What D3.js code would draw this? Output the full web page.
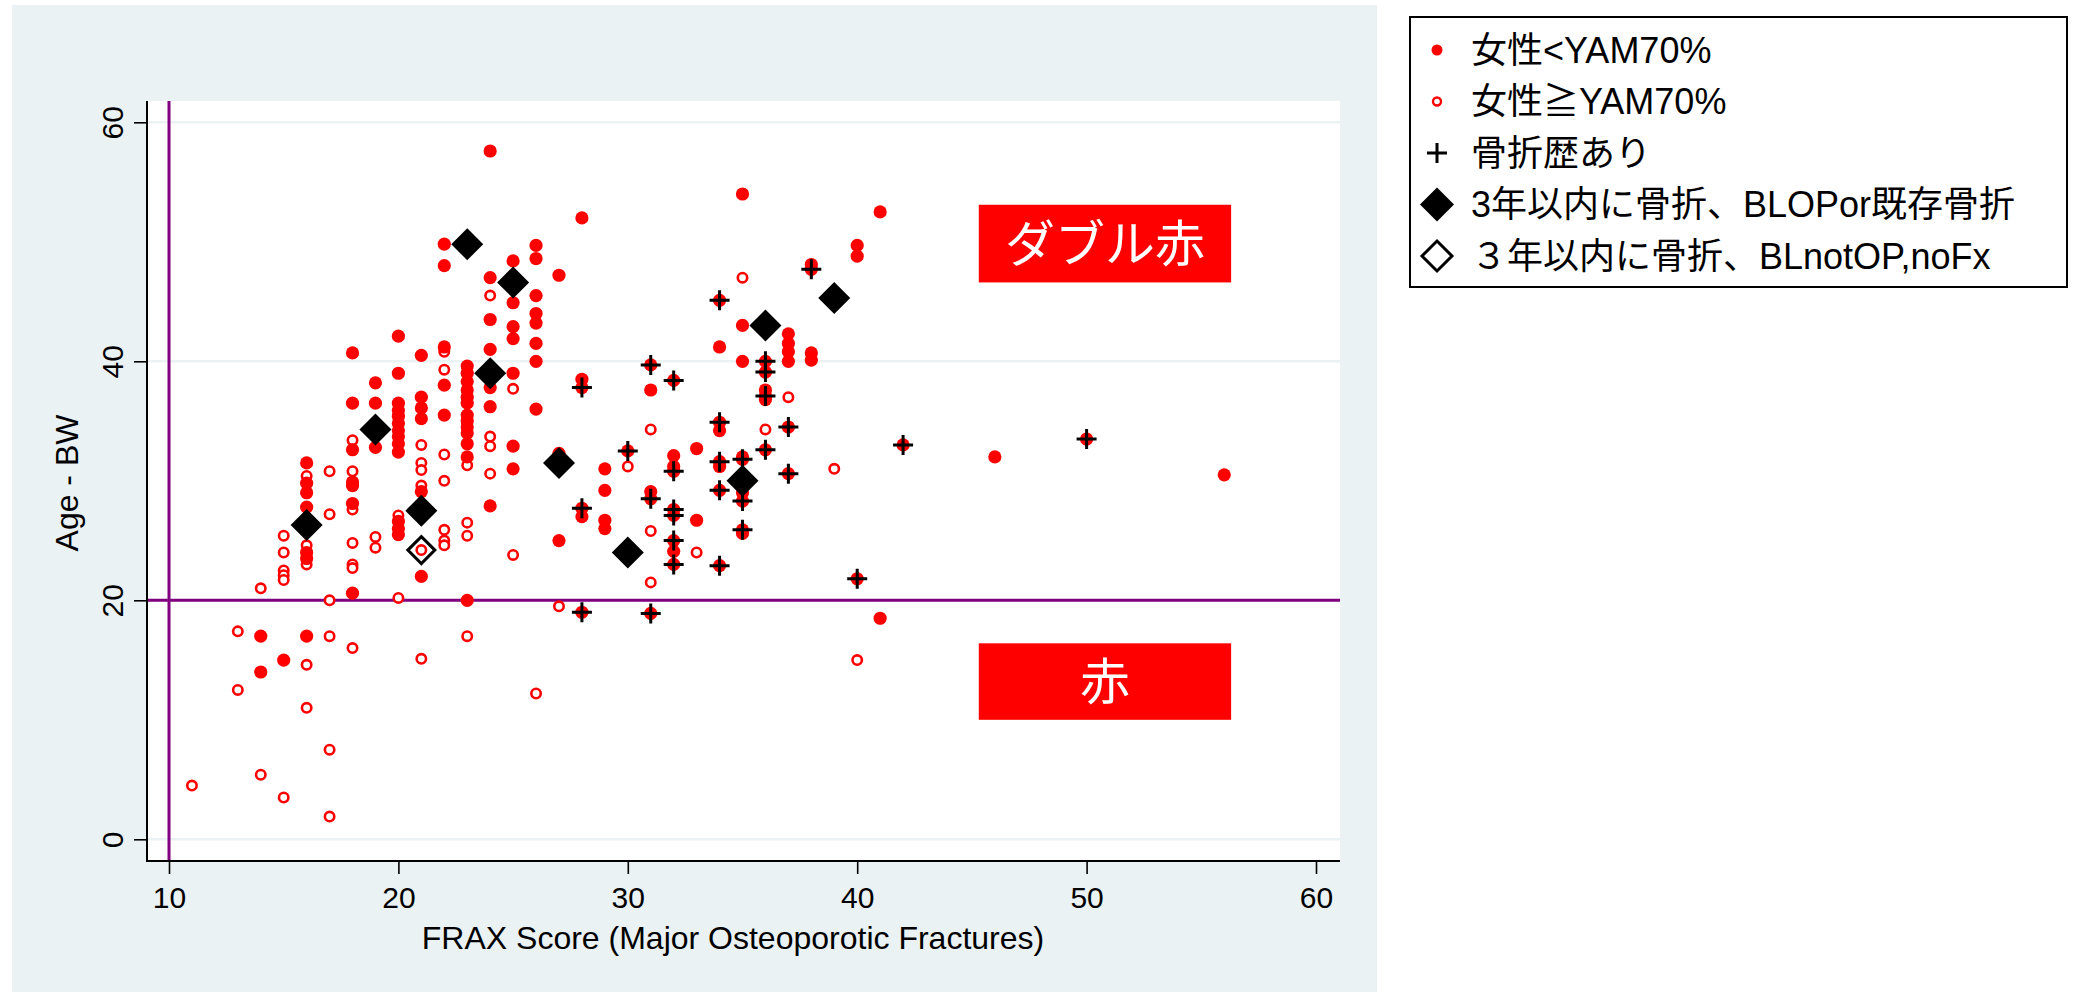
<!DOCTYPE html>
<html>
<head>
<meta charset="utf-8">
<script src="https://cdn.jsdelivr.net/npm/d3@7"></script>
<style>
  body { margin: 0; background: #fff; }
  svg { display: block; }
  text { font-family: "Liberation Sans", Arial, "Noto Sans CJK JP", sans-serif; }
</style>
</head>
<body>
<script>
// data: [FRAX, Age - BW]
var lowPts = [ // 女性<YAM70% (filled)
  [14,17.0],[14,14.0],[15,15.0],
  [16,31.5],[16,29.8],[16,29.0],[16,27.8],[16,24.0],[16,23.5],[16,17.0],
  [18,40.7],[18,36.5],[18,32.6],[18,29.9],[18,29.6],[18,28.1],[18,20.6],
  [19,38.2],[19,36.5],[19,32.8],
  [20,42.1],[20,39.0],[20,36.5],[20,35.9],[20,35.4],[20,34.8],[20,34.2],[20,33.7],[20,33.1],[20,32.4],[20,26.6],[20,26.0],[20,25.5],
  [21,40.5],[21,37.0],[21,36.1],[21,35.2],[21,29.1],[21,22.0],
  [22,49.8],[22,48.0],[22,41.2],[22,38.0],[22,35.5],
  [23,39.6],[23,39.0],[23,38.3],[23,37.6],[23,37.0],[23,36.5],[23,35.5],[23,35.0],[23,34.5],[23,34.0],[23,33.1],[23,32.0],[23,20.0],
  [24,57.6],[24,47.0],[24,43.5],[24,41.0],[24,37.8],[24,36.2],[24,27.9],
  [25,48.4],[25,44.9],[25,42.9],[25,41.9],[25,39.0],[25,32.9],[25,31.0],
  [26,49.7],[26,48.6],[26,45.5],[26,44.0],[26,43.2],[26,41.5],[26,40.0],[26,36.0],
  [27,47.2],[27,32.3],[27,25.0],
  [28,52.0],[28,38.5],[28,37.8],[28,27.7],[28,27.0],[28,19.0],
  [29,31.0],[29,29.2],[29,26.7],[29,26.0],
  [30,32.5],
  [31,39.7],[31,37.6],[31,29.1],[31,28.5],[31,18.9],
  [32,38.4],[32,32.1],[32,31.2],[32,30.8],[32,27.6],[32,27.1],[32,25.0],[32,24.1],[32,23.0],
  [33,32.7],[33,26.7],
  [34,45.1],[34,41.2],[34,34.9],[34,34.2],[34,31.6],[34,31.2],[34,29.2],[34,22.9],
  [35,54.0],[35,43.0],[35,40.0],[35,32.0],[35,31.8],[35,29.0],[35,28.3],[35,25.9],[35,25.6],
  [36,40.0],[36,39.1],[36,37.6],[36,37.1],[36,36.8],[36,32.6],
  [37,42.3],[37,41.5],[37,40.8],[37,40.0],[37,34.5],[37,30.6],
  [38,48.1],[38,47.7],[38,40.7],[38,40.1],
  [40,49.7],[40,48.8],[40,21.8],
  [41,52.5],[41,18.5],
  [42,33.0],[46,32.0],[50,33.5],[56,30.5]
];
var highPts = [ // 女性≧YAM70% (hollow)
  [11,4.5],[13,17.4],[13,12.5],[14,21.0],[14,5.4],
  [15,25.4],[15,24.0],[15,22.5],[15,22.1],[15,21.7],[15,3.5],
  [16,30.4],[16,24.6],[16,23.0],[16,14.6],[16,11.0],
  [17,30.8],[17,27.2],[17,20.0],[17,17.0],[17,7.5],[17,1.9],
  [18,33.4],[18,30.8],[18,27.6],[18,24.8],[18,23.0],[18,22.7],[18,16.0],
  [19,25.3],[19,24.4],[20,27.1],[20,20.2],
  [21,33.0],[21,31.5],[21,30.9],[21,29.6],[21,24.2],[21,15.1],
  [22,40.8],[22,39.3],[22,32.2],[22,30.0],[22,25.9],[22,25.0],[22,24.6],
  [23,31.3],[23,26.5],[23,25.4],[23,17.0],
  [24,45.5],[24,33.7],[24,32.9],[24,30.6],
  [25,37.7],[25,23.8],[26,12.2],[27,19.5],[30,31.2],
  [31,34.3],[31,25.8],[31,21.5],[33,24.0],[35,47.0],[36,34.3],[37,37.0],[39,31.0],[40,15.0]
];
var fxPts = [ // 骨折歴あり (+)
  [28,37.8],[28,27.7],[28,19.0],[30,32.5],[31,39.7],[31,28.5],[31,18.9],
  [32,38.4],[32,30.8],[32,27.6],[32,27.1],[32,25.0],[32,23.0],
  [34,45.1],[34,34.9],[34,31.6],[34,29.2],[34,22.9],
  [35,31.8],[35,28.3],[35,25.9],[36,40.0],[36,39.1],[36,37.1],[36,32.6],
  [37,34.5],[37,30.6],[38,47.7],[40,21.8],[42,33.0],[50,33.5]
];
var opFxPts = [ // 3年以内に骨折、BLOPor既存骨折 (filled diamond)
  [16,26.3],[19,34.3],[21,27.5],[23,49.8],[24,39.0],[25,46.6],
  [27,31.5],[30,24.0],[35,30.0],[36,43.0],[39,45.3]
];
var noOpFxPts = [ // ３年以内に骨折、BLnotOP,noFx (hollow diamond)
  [21,24.2]
];

var xTicks = [10, 20, 30, 40, 50, 60];
var yTicks = [0, 20, 40, 60];
var refX = 10, refY = 20;
var legendLabels = ['女性<YAM70%', '女性≧YAM70%', '骨折歴あり', '3年以内に骨折、BLOPor既存骨折', '３年以内に骨折、BLnotOP,noFx'];
var boxLabels = ['ダブル赤', '赤'];
// box extents in data units [x0, x1, y0, y1]
var boxExtents = [[45.3, 56.3, 46.6, 53.1], [45.3, 56.3, 10.0, 16.4]];

var W = 2078, H = 992;
var red = '#ff0000', purple = '#800080', grid = '#eaf2f3';
var plot = {left: 147, right: 1340, top: 101, bottom: 861};

var svg = d3.select('body').append('svg')
  .attr('width', W)
  .attr('height', H);

// graph region background
svg.append('rect')
  .attr('x', 12).attr('y', 5)
  .attr('width', 1365).attr('height', H - 5)
  .attr('fill', grid);

svg.append('rect')
  .attr('x', plot.left).attr('y', plot.top)
  .attr('width', plot.right - plot.left).attr('height', plot.bottom - plot.top)
  .attr('fill', '#fff');

var x = d3.scaleLinear().domain([10, 60]).range([169, 1316]);
var y = d3.scaleLinear().domain([0, 60]).range([839.3, 122.3]);

// gridlines
svg.append('g').selectAll('line')
  .data(yTicks)
  .join('line')
    .attr('x1', plot.left).attr('x2', plot.right)
    .attr('y1', d => y(d)).attr('y2', d => y(d))
    .attr('stroke', grid).attr('stroke-width', 2.5);

// reference lines
svg.append('line')
  .attr('x1', x(refX)).attr('x2', x(refX))
  .attr('y1', plot.top).attr('y2', plot.bottom)
  .attr('stroke', purple).attr('stroke-width', 3);
svg.append('line')
  .attr('x1', plot.left).attr('x2', plot.right)
  .attr('y1', y(refY)).attr('y2', y(refY))
  .attr('stroke', purple).attr('stroke-width', 3);

// axes
var xAxis = svg.append('g')
  .attr('transform', 'translate(0,' + plot.bottom + ')')
  .call(d3.axisBottom(x).tickValues(xTicks).tickSize(13).tickPadding(13));
xAxis.select('.domain').remove();
xAxis.selectAll('.tick line').attr('stroke', '#000').attr('stroke-width', 1.6);
xAxis.selectAll('.tick text')
  .attr('fill', '#000')
  .style('font-size', '30px');

var yAxis = svg.append('g')
  .attr('transform', 'translate(' + plot.left + ',0)')
  .call(d3.axisLeft(y).tickValues(yTicks).tickSize(13));
yAxis.select('.domain').remove();
yAxis.selectAll('.tick line').attr('stroke', '#000').attr('stroke-width', 1.6);
yAxis.selectAll('.tick text')
  .attr('fill', '#000')
  .attr('transform', 'rotate(-90)')
  .attr('x', 0).attr('y', -24).attr('dy', null)
  .attr('text-anchor', 'middle')
  .style('font-size', '30px');

svg.append('line')
  .attr('x1', plot.left).attr('x2', plot.left)
  .attr('y1', plot.top).attr('y2', plot.bottom + 1)
  .attr('stroke', '#000').attr('stroke-width', 2);
svg.append('line')
  .attr('x1', plot.left - 1).attr('x2', plot.right)
  .attr('y1', plot.bottom).attr('y2', plot.bottom)
  .attr('stroke', '#000').attr('stroke-width', 2);

// axis titles
svg.append('text')
  .attr('x', 733).attr('y', 949)
  .attr('text-anchor', 'middle')
  .style('font-size', '32px')
  .text('FRAX Score (Major Osteoporotic Fractures)');
svg.append('text')
  .attr('transform', 'translate(78,483) rotate(-90)')
  .attr('text-anchor', 'middle')
  .style('font-size', '32px')
  .text('Age - BW');

// annotation boxes
var boxes = svg.append('g').selectAll('g')
  .data(boxLabels)
  .join('g');
boxes.append('rect')
  .attr('x', (d, i) => x(boxExtents[i][0]))
  .attr('y', (d, i) => y(boxExtents[i][3]))
  .attr('width', (d, i) => x(boxExtents[i][1]) - x(boxExtents[i][0]))
  .attr('height', (d, i) => y(boxExtents[i][2]) - y(boxExtents[i][3]))
  .attr('fill', red);
boxes.append('text')
  .attr('x', (d, i) => (x(boxExtents[i][0]) + x(boxExtents[i][1])) / 2)
  .attr('y', (d, i) => (y(boxExtents[i][2]) + y(boxExtents[i][3])) / 2)
  .attr('dy', '0.36em')
  .attr('text-anchor', 'middle')
  .attr('fill', '#fff')
  .style('font-family', '"Noto Sans CJK JP", sans-serif')
  .style('font-size', '50px')
  .text(d => d);

// markers
var diamond = s => 'M0,' + (-s) + 'L' + s + ',0L0,' + s + 'L' + (-s) + ',0Z';
var plus = s => 'M' + (-s) + ',0H' + s + 'M0,' + (-s) + 'V' + s;

svg.append('g').selectAll('circle')
  .data(highPts)
  .join('circle')
    .attr('cx', d => x(d[0])).attr('cy', d => y(d[1]))
    .attr('r', 4.7)
    .attr('fill', '#fff').attr('stroke', red).attr('stroke-width', 2.6);

svg.append('g').selectAll('circle')
  .data(lowPts)
  .join('circle')
    .attr('cx', d => x(d[0])).attr('cy', d => y(d[1]))
    .attr('r', 6.6)
    .attr('fill', red);

svg.append('g').selectAll('path')
  .data(fxPts)
  .join('path')
    .attr('transform', d => 'translate(' + x(d[0]) + ',' + y(d[1]) + ')')
    .attr('d', plus(10))
    .attr('stroke', '#000').attr('stroke-width', 3).attr('fill', 'none');

svg.append('g').selectAll('path')
  .data(opFxPts)
  .join('path')
    .attr('transform', d => 'translate(' + x(d[0]) + ',' + y(d[1]) + ')')
    .attr('d', diamond(16))
    .attr('fill', '#000');

svg.append('g').selectAll('path')
  .data(noOpFxPts)
  .join('path')
    .attr('transform', d => 'translate(' + x(d[0]) + ',' + y(d[1]) + ')')
    .attr('d', diamond(13.5))
    .attr('fill', 'none').attr('stroke', '#000').attr('stroke-width', 3);

// legend
var lg = svg.append('g');
lg.append('rect')
  .attr('x', 1410).attr('y', 17)
  .attr('width', 657).attr('height', 270)
  .attr('fill', '#fff').attr('stroke', '#000').attr('stroke-width', 2);

var rowY = d3.scalePoint().domain(d3.range(legendLabels.length)).range([50, 256]);
var items = lg.selectAll('g.item')
  .data(legendLabels)
  .join('g')
    .attr('class', 'item')
    .attr('transform', (d, i) => 'translate(1437,' + rowY(i) + ')');

items.each(function(d, i) {
  var g = d3.select(this);
  if (i === 0) g.append('circle').attr('r', 5.5).attr('fill', red);
  if (i === 1) g.append('circle').attr('r', 4).attr('fill', 'none').attr('stroke', red).attr('stroke-width', 2.4);
  if (i === 2) g.append('path').attr('d', plus(10)).attr('stroke', '#000').attr('stroke-width', 3);
  if (i === 3) g.append('path').attr('d', diamond(17)).attr('fill', '#000');
  if (i === 4) g.append('path').attr('d', diamond(15)).attr('fill', 'none').attr('stroke', '#000').attr('stroke-width', 3);
});

items.append('text')
  .attr('x', 34)
  .attr('dy', '0.36em')
  .style('font-size', '36px')
  .text(d => d);
</script>
</body>
</html>
